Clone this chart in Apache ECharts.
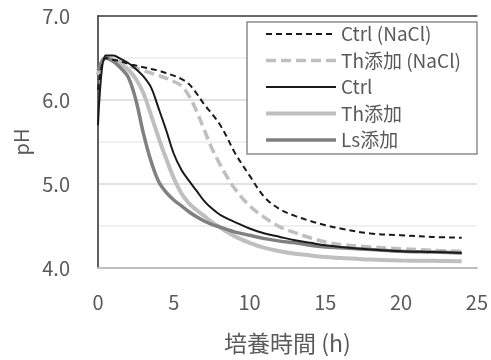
<!DOCTYPE html>
<html>
<head>
<meta charset="utf-8">
<script src="https://cdn.jsdelivr.net/npm/echarts@6/dist/echarts.min.js"></script>
<style>
  html, body { margin: 0; padding: 0; background: #fff; }
  #main { width: 491px; height: 360px; }
</style>
</head>
<body>
<div id="main"></div>
<script>
// 培養時間 (h)
var time = [0, 0.5, 1, 1.5, 2, 2.5, 3, 3.5, 4, 4.5, 5, 5.5, 6, 6.5, 7, 7.5, 8, 8.5, 9, 10, 11, 12, 13, 14, 15, 16, 18, 20, 22, 24];

// pH
var ctrlNaCl = [6.12, 6.50, 6.48, 6.46, 6.43, 6.41, 6.39, 6.37, 6.35, 6.32, 6.29, 6.25, 6.19, 6.08, 5.95, 5.84, 5.72, 5.56, 5.38, 5.10, 4.84, 4.70, 4.62, 4.56, 4.51, 4.47, 4.41, 4.39, 4.37, 4.36];
var thNaCl = [6.30, 6.50, 6.48, 6.45, 6.41, 6.38, 6.35, 6.32, 6.29, 6.26, 6.22, 6.17, 6.05, 5.87, 5.65, 5.43, 5.25, 5.09, 4.95, 4.74, 4.60, 4.49, 4.42, 4.36, 4.31, 4.28, 4.25, 4.23, 4.21, 4.20];
var ctrl = [5.70, 6.53, 6.53, 6.49, 6.44, 6.37, 6.28, 6.15, 5.90, 5.64, 5.36, 5.17, 5.04, 4.92, 4.80, 4.71, 4.64, 4.59, 4.55, 4.47, 4.41, 4.37, 4.33, 4.30, 4.27, 4.25, 4.22, 4.20, 4.19, 4.18];
var th = [6.30, 6.50, 6.48, 6.43, 6.36, 6.25, 6.08, 5.82, 5.55, 5.30, 5.07, 4.89, 4.77, 4.69, 4.62, 4.55, 4.49, 4.43, 4.38, 4.30, 4.24, 4.20, 4.17, 4.15, 4.13, 4.12, 4.10, 4.09, 4.085, 4.08];
var ls = [6.35, 6.50, 6.46, 6.38, 6.27, 6.00, 5.60, 5.27, 5.03, 4.90, 4.81, 4.74, 4.67, 4.61, 4.56, 4.52, 4.49, 4.46, 4.43, 4.39, 4.35, 4.32, 4.30, 4.27, 4.25, 4.24, 4.22, 4.20, 4.19, 4.18];

var names = ['Ctrl (NaCl)', 'Th添加 (NaCl)', 'Ctrl', 'Th添加', 'Ls添加'];

var font = '"Noto Sans CJK JP", "Noto Sans", sans-serif';
var textColor = '#595959';

function pairs(ys) {
    return time.map(function (t, i) { return [t, ys[i]]; });
}

function makeLine(name, ys, color, width, type, z) {
    return {
        name: name,
        type: 'line',
        data: pairs(ys),
        smooth: 0.35,
        symbol: 'none',
        z: z,
        lineStyle: { color: color, width: width, type: type },
        itemStyle: { color: color }
    };
}

var chart = echarts.init(document.getElementById('main'));
chart.setOption({
    animation: false,
    backgroundColor: '#fff',
    textStyle: { fontFamily: font },
    grid: { left: 98, right: 11, top: 16, bottom: 92 },
    legend: {
        data: names,
        orient: 'vertical',
        left: 247, top: 22,
        padding: [2, 16, 4, 17],
        itemWidth: 70, itemHeight: 14, itemGap: 6.5,
        backgroundColor: '#fff',
        borderColor: '#8c8c8c', borderWidth: 1.5,
        textStyle: { fontFamily: font, fontSize: 19, color: textColor, lineHeight: 20 },
        itemStyle: { opacity: 0 },
        lineStyle: { width: 'inherit' }
    },
    xAxis: [{
        type: 'value',
        min: 0, max: 25, interval: 5,
        name: '培養時間 (h)',
        nameLocation: 'middle', nameGap: 64,
        nameTextStyle: { fontSize: 23, color: textColor, fontFamily: font },
        axisLine: { show: true, lineStyle: { color: '#bfbfbf', width: 2 } },
        axisTick: { show: false },
        axisLabel: { fontSize: 20, color: textColor, margin: 24, fontFamily: font },
        splitLine: { show: false }
    }, {
        type: 'value', position: 'top',
        min: 0, max: 25, interval: 5,
        axisLine: { show: true, lineStyle: { color: '#404040', width: 1.5 } },
        axisTick: { show: false }, axisLabel: { show: false }, splitLine: { show: false }
    }],
    yAxis: [{
        type: 'value',
        min: 4, max: 7, interval: 1,
        name: 'pH',
        nameLocation: 'middle', nameGap: 65, nameRotate: 90,
        nameTextStyle: { fontSize: 20, color: textColor, fontFamily: font },
        axisLine: { show: true, lineStyle: { color: '#bfbfbf', width: 2 } },
        axisTick: { show: false },
        axisLabel: {
            fontSize: 20, color: textColor, margin: 28, fontFamily: font,
            formatter: function (v) { return v.toFixed(1); }
        },
        splitLine: { show: true, lineStyle: { color: '#d9d9d9', width: 1.5 } },
        minorTick: { show: false, splitNumber: 2 },
        minorSplitLine: { show: true, lineStyle: { color: '#ececec', width: 1.5 } }
    }, {
        type: 'value', position: 'right',
        min: 4, max: 7, interval: 1,
        axisLine: { show: true, lineStyle: { color: '#404040', width: 1.5 } },
        axisTick: { show: false }, axisLabel: { show: false }, splitLine: { show: false }
    }],
    series: [
        makeLine(names[0], ctrlNaCl, '#1a1a1a', 2, [6, 4], 5),
        makeLine(names[1], thNaCl, '#bfbfbf', 3.5, [10, 5], 3),
        makeLine(names[2], ctrl, '#1a1a1a', 2, 'solid', 6),
        makeLine(names[3], th, '#bfbfbf', 4, 'solid', 2),
        makeLine(names[4], ls, '#808080', 3.5, 'solid', 4)
    ]
});
</script>
</body>
</html>
